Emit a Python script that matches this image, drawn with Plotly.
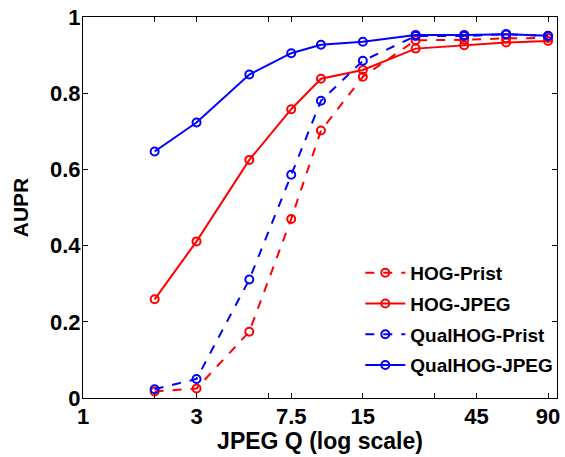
import plotly.graph_objects as go

q = [2, 3, 5, 7.5, 10, 15, 25, 40, 60, 90]
hog_prist = [0.017, 0.025, 0.174, 0.47, 0.702, 0.843, 0.939, 0.940, 0.944, 0.945]
hog_jpeg = [0.259, 0.411, 0.625, 0.758, 0.838, 0.861, 0.917, 0.926, 0.933, 0.937]
qual_prist = [0.023, 0.050, 0.311, 0.586, 0.780, 0.885, 0.950, 0.950, 0.955, 0.950]
qual_jpeg = [0.647, 0.723, 0.849, 0.905, 0.927, 0.935, 0.953, 0.953, 0.955, 0.951]

x_tickvals = [1, 2, 3, 6, 7.5, 15, 30, 45, 90]
x_ticktext = ["1", "", "3", "", "7.5", "15", "", "45", "90"]
y_tickvals = [0, 0.2, 0.4, 0.6, 0.8, 1]
y_ticktext = ["0", "0.2", "0.4", "0.6", "0.8", "1"]

series = [
    ("HOG-Prist", hog_prist, "#ff0000", "dash"),
    ("HOG-JPEG", hog_jpeg, "#ff0000", "solid"),
    ("QualHOG-Prist", qual_prist, "#0000ff", "dash"),
    ("QualHOG-JPEG", qual_jpeg, "#0000ff", "solid"),
]

fig = go.Figure()
for i, (name, ys, col, dash) in enumerate(series):
    fig.add_trace(go.Scatter(
        x=q, y=ys, name=name, mode="lines+markers", legendgroup=f"g{i}",
        line=dict(color=col, width=2, dash=dash),
        marker=dict(symbol="circle-open", size=8, color=col, line=dict(width=2, color=col)),
    ))

font = "Liberation Sans, Arial, sans-serif"
fig.update_layout(
    width=565, height=457,
    margin=dict(l=83, r=5, t=16, b=59),
    paper_bgcolor="white", plot_bgcolor="white",
    font=dict(family=font, color="black"),
    showlegend=True,
    legend=dict(
        x=0.585, y=0.378, xanchor="left", yanchor="top",
        bgcolor="rgba(0,0,0,0)", borderwidth=0,
        font=dict(size=19, family=font, weight="bold"),
        tracegroupgap=3, itemwidth=40,
    ),
    xaxis=dict(
        type="log", range=[0, 1.992],
        tickvals=x_tickvals, ticktext=x_ticktext,
        ticks="inside", ticklen=5, tickcolor="black",
        showline=True, linecolor="black", linewidth=1.2, mirror="ticks",
        showgrid=False, zeroline=False, ticklabelstandoff=-2,
        tickfont=dict(size=22, family=font, weight="bold"),
        title=dict(text="JPEG Q (log scale)", font=dict(size=23, family=font, weight="bold"), standoff=5),
    ),
    yaxis=dict(
        range=[0, 1],
        tickvals=y_tickvals, ticktext=y_ticktext,
        ticks="inside", ticklen=5, tickcolor="black",
        showline=True, linecolor="black", linewidth=1.2, mirror="ticks",
        showgrid=False, zeroline=False, ticklabelstandoff=-3,
        ticklabeloverflow="allow",
        tickfont=dict(size=22, family=font, weight="bold"),
        title=dict(text="AUPR", font=dict(size=21, family=font, weight="bold"), standoff=15),
    ),
)

# remove the default 8px page margin so the figure fills the 565x457 window
fig.write_html("out.html", config={"displayModeBar": False},
               post_script="document.body.style.margin='0px';")
